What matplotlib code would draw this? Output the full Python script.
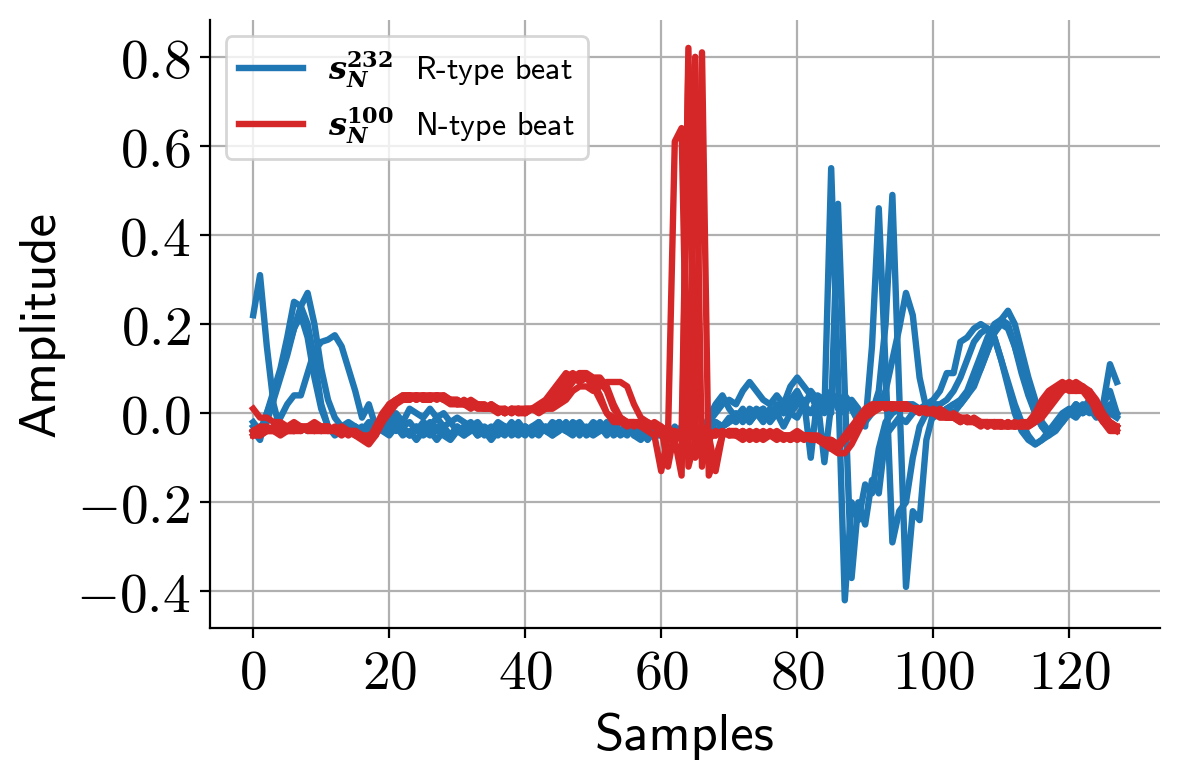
import numpy as np
import matplotlib
matplotlib.use("Agg")
import matplotlib.pyplot as plt
from matplotlib.ticker import FuncFormatter
from matplotlib.font_manager import FontProperties

plt.rcParams.update({
    "mathtext.fontset": "cm",
    "axes.unicode_minus": True,
})

BLUE = "tab:blue"
RED = "tab:red"

# R-type beats (s_N^232)
beat_r1 = [0.22, 0.31, 0.15, 0.02, -0.04, -0.03, -0.04, -0.03, -0.04, -0.03, -0.04, -0.03, -0.04, -0.03, -0.04, -0.03,
           -0.04, -0.03, -0.02, -0.04,
           -0.02, -0.04, -0.03, -0.05, -0.03, -0.04, -0.02, -0.04, -0.03, -0.05,
           -0.03, -0.04, -0.03, -0.05, -0.04, -0.05, -0.03, -0.04, -0.02, -0.04,
           -0.03, -0.05, -0.03, -0.04, -0.02, -0.03, -0.04, -0.02, -0.03, -0.04,
           -0.02, -0.03, -0.05, -0.03, -0.04, -0.03, -0.05, -0.04, -0.05, -0.04,
           -0.04, -0.05, -0.04, -0.05, -0.04, -0.03, -0.04, -0.02, 0.0, 0.02, 0.03, 0.02,
           0.05, 0.07, 0.05, 0.03, 0.02, 0.04, 0.02, 0.06, 0.08, 0.06, 0.04, 0.01,
           0.0, 0.55, 0.08, -0.42, -0.2, -0.24, -0.16, -0.18, -0.08, -0.02, 0.0, 0.01, 0.02, 0.02, 0.01, 0.02,
           0.03, 0.05, 0.09, 0.09, 0.16, 0.17, 0.19, 0.2, 0.19, 0.17, 0.12, 0.06, 0.0, -0.04, -0.06, -0.07,
           -0.06, -0.04, -0.03, -0.02, 0.0, -0.01, 0.01, 0.0, 0.01, 0.0, 0.02, 0.0]
beat_r2 = [-0.04, -0.06, 0.0, 0.05, 0.1, 0.17, 0.25, 0.24, 0.2, 0.12, 0.02, -0.03, -0.04, -0.03, -0.04, -0.03,
           -0.04, -0.03, -0.04, -0.03,
           -0.01, 0.0, -0.02, 0.01, 0.0, -0.01, 0.01, -0.01, 0.0, -0.02,
           -0.01, -0.02, -0.03, -0.02, -0.04, -0.03, -0.04, -0.03, -0.05, -0.04,
           -0.03, -0.04, -0.02, -0.04, -0.03, -0.02, -0.04, -0.03, -0.02, -0.04,
           -0.03, -0.04, -0.02, -0.03, -0.05, -0.04, -0.03, -0.05, -0.04, -0.05,
           -0.04, -0.06, -0.04, -0.05, -0.03, -0.05, -0.04, -0.03, -0.04, -0.03, -0.02, 0.0, -0.02,
           0.01, 0.0, -0.02, 0.01, 0.0, -0.03, 0.0, 0.02, 0.03, -0.1, 0.04, 0.03, 0.0,
           0.47, 0.05, -0.37, -0.2, -0.25, -0.15, -0.18, -0.05, -0.03, -0.01, -0.02, 0.0, 0.01, 0.0,
           0.02, 0.02, 0.03, 0.05, 0.08, 0.12, 0.16, 0.18, 0.19, 0.17, 0.12, 0.07, 0.02, -0.02, -0.05, -0.07,
           -0.06, -0.05, -0.03, -0.01, 0.0, 0.01, 0.0, 0.02, 0.0, 0.01, 0.0, -0.01]
beat_r3 = [-0.03, -0.05, -0.02, 0.03, 0.08, 0.13, 0.19, 0.24, 0.27, 0.2, 0.1, 0.03, -0.01, -0.03, -0.02, -0.03,
           -0.04, -0.02, -0.04, -0.03,
           -0.04, -0.02, -0.04, -0.05, -0.03, -0.05, -0.04, -0.06, -0.04, -0.05,
           -0.03, -0.05, -0.04, -0.03, -0.05, -0.04, -0.05, -0.03, -0.04, -0.05,
           -0.03, -0.04, -0.05, -0.03, -0.04, -0.02, -0.04, -0.03, -0.05, -0.03,
           -0.04, -0.02, -0.04, -0.03, -0.04, -0.05, -0.03, -0.04, -0.06, -0.04,
           -0.05, -0.04, -0.06, -0.04, -0.05, -0.03, -0.04, -0.01, 0.02, 0.04, 0.01, -0.01, 0.01,
           -0.02, 0.0, 0.01, -0.01, 0.01, 0.0, 0.03, 0.05, 0.02, 0.0, 0.03, 0.01, 0.04, 0.02, 0.0,
           0.03, 0.01, -0.03, 0.15, 0.46, 0.1, -0.29, -0.22, -0.2, -0.1, -0.03, 0.0,
           0.01, 0.0, 0.01, 0.02, 0.03, 0.05, 0.09, 0.13, 0.17, 0.2, 0.21, 0.2, 0.15, 0.1, 0.05, 0.0,
           -0.03, -0.05, -0.04, -0.02, 0.0, 0.02, 0.0, 0.01, -0.01, 0.02, 0.11, 0.07]
beat_r4 = [-0.02, -0.04, 0.0, 0.04, 0.09, 0.14, 0.19, 0.22, 0.17, 0.08, 0.01, -0.03, -0.05, -0.04, -0.03, -0.04,
           -0.03, -0.04, -0.03, -0.02,
           -0.03, -0.01, -0.03, -0.02, -0.04, -0.02, -0.03, -0.01, -0.03, -0.02,
           -0.04, -0.03, -0.02, -0.04, -0.03, -0.04, -0.02, -0.03, -0.04, -0.02,
           -0.04, -0.03, -0.02, -0.04, -0.05, -0.03, -0.04, -0.05, -0.03, -0.04,
           -0.05, -0.04, -0.03, -0.05, -0.04, -0.03, -0.05, -0.06, -0.04, -0.05,
           -0.05, -0.04, -0.05, -0.03, -0.04, -0.05, -0.03, -0.04, -0.02, -0.03, -0.01, -0.02, 0.0,
           -0.01, 0.01, 0.0, -0.02, 0.0, 0.02, 0.0, -0.01, 0.02, 0.04, 0.01, 0.03, 0.05, 0.01,
           0.04, 0.02, 0.0, -0.02, 0.0, 0.05,
           0.2, 0.49, 0.05, -0.39, -0.22, -0.24, -0.06, 0.0, 0.0, 0.01, 0.02, 0.02,
           0.04, 0.07, 0.1, 0.14, 0.18, 0.21, 0.23, 0.2, 0.14, 0.08, 0.03, -0.02, -0.04, -0.03, -0.01,
           0.0, 0.02, 0.01, 0.03, 0.0, 0.02, 0.05, 0.0]
beat_r5 = [-0.04, -0.03, -0.04, -0.03, -0.01, 0.02, 0.04, 0.04, 0.09, 0.14, 0.16, 0.165, 0.175, 0.15, 0.1, 0.05,
           -0.01, 0.02, -0.03, -0.04,
           -0.05, -0.03, -0.05, -0.04, -0.06, -0.04, -0.05, -0.03, -0.05, -0.06,
           -0.04, -0.05, -0.03, -0.05, -0.04, -0.06, -0.04, -0.05, -0.03, -0.04,
           -0.05, -0.03, -0.04, -0.03, -0.05, -0.04, -0.02, -0.04, -0.03, -0.05,
           -0.04, -0.03, -0.04, -0.02, -0.04, -0.03, -0.04, -0.05, -0.03, -0.05,
           -0.04, -0.05, -0.03, -0.05, -0.04, -0.03, -0.05, -0.04, -0.02, -0.03, -0.02, -0.01, 0.0,
           -0.02, 0.0, 0.01, -0.01, 0.02, 0.0, 0.01, 0.03, 0.01, 0.05, 0.03, -0.11, 0.02, 0.04,
           0.02, 0.01, -0.02, -0.01, 0.0, 0.02,
           0.05, 0.12, 0.19, 0.27, 0.22, 0.08, 0.01, -0.01, 0.0, 0.01, 0.0, 0.02,
           0.04, 0.06, 0.1, 0.14, 0.18, 0.2, 0.19, 0.15, 0.09, 0.04, 0.0, -0.03, -0.04, -0.02,
           0.0, 0.01, 0.0, 0.02, 0.01, 0.0, 0.01, 0.0]

# N-type beats (s_N^100)
beat_n1 = [0.01, -0.01, -0.01, -0.02, -0.02, -0.03, -0.02, -0.03, -0.03, -0.02, -0.03, -0.03, -0.04, -0.03, -0.04, -0.04, -0.05, -0.06, -0.04, -0.01,
           0.02, 0.03, 0.04, 0.04, 0.03, 0.04, 0.04, 0.03, 0.04, 0.03, 0.03, 0.02, 0.03, 0.02, 0.02, 0.01, 0.01, 0.0, 0.01, 0.01,
           0.0, 0.01, 0.01, 0.02, 0.04, 0.06, 0.08, 0.09, 0.08, 0.08, 0.07, 0.04, 0.0, -0.01, -0.02, -0.02, -0.03, -0.02, -0.03, -0.03,
           -0.05, -0.04, -0.06, -0.14, 0.82, -0.05, -0.1, -0.04, -0.05, -0.04,
           -0.05, -0.04, -0.05, -0.05, -0.04, -0.05, -0.05, -0.05, -0.06, -0.05, -0.05, -0.06, -0.05, -0.06, -0.06, -0.07, -0.08, -0.06, -0.04, -0.02,
           0.0, 0.01, 0.02, 0.02, 0.01, 0.02, 0.02, 0.01, 0.01, 0.01, 0.0, 0.0, -0.01, -0.01, -0.01, -0.02, -0.02, -0.02, -0.02, -0.03,
           -0.02, -0.03, -0.03, -0.02, -0.02, 0.0, 0.03, 0.05, 0.06, 0.07, 0.06, 0.05, 0.06, 0.04, 0.0, -0.02, -0.03, -0.04]
beat_n2 = [-0.05, -0.04, -0.04, -0.03, -0.04, -0.04, -0.03, -0.04, -0.03, -0.04, -0.03, -0.03, -0.04, -0.03, -0.04, -0.05, -0.05, -0.06, -0.03, 0.0,
           0.02, 0.03, 0.03, 0.04, 0.03, 0.04, 0.03, 0.04, 0.04, 0.03, 0.02, 0.02, 0.02, 0.01, 0.01, 0.02, 0.01, 0.01, 0.0, 0.01,
           0.01, 0.01, 0.02, 0.03, 0.05, 0.07, 0.09, 0.08, 0.09, 0.08, 0.06, 0.03, 0.0, -0.02, -0.02, -0.03, -0.02, -0.03, -0.04, -0.05,
           -0.13, -0.05, 0.61, 0.64, -0.12, -0.06, -0.03, -0.06, -0.04, -0.05,
           -0.04, -0.05, -0.04, -0.06, -0.05, -0.04, -0.05, -0.06, -0.05, -0.05, -0.06, -0.05, -0.05, -0.06, -0.07, -0.08, -0.07, -0.05, -0.03, -0.01,
           0.01, 0.02, 0.02, 0.01, 0.02, 0.02, 0.02, 0.01, 0.01, 0.0, 0.01, 0.0, -0.01, 0.0, -0.01, -0.02, -0.01, -0.02, -0.03, -0.02,
           -0.03, -0.02, -0.03, -0.03, -0.02, -0.01, 0.01, 0.03, 0.05, 0.06, 0.07, 0.06, 0.05, 0.05, 0.02, -0.01, -0.03, -0.03]
beat_n3 = [-0.05, -0.05, -0.04, -0.04, -0.05, -0.04, -0.04, -0.03, -0.04, -0.04, -0.03, -0.04, -0.04, -0.05, -0.04, -0.05, -0.06, -0.07, -0.05, -0.02,
           0.01, 0.03, 0.04, 0.04, 0.04, 0.03, 0.04, 0.04, 0.03, 0.03, 0.03, 0.02, 0.02, 0.02, 0.01, 0.01, 0.0, 0.01, 0.0, 0.01,
           0.0, 0.01, 0.01, 0.01, 0.02, 0.03, 0.05, 0.07, 0.09, 0.09, 0.08, 0.08, 0.06, 0.02, -0.01, -0.02, -0.02, -0.03, -0.02, -0.03,
           -0.04, -0.03, -0.05, -0.06, -0.1, 0.8, -0.12, -0.05, -0.05, -0.04,
           -0.05, -0.05, -0.04, -0.05, -0.06, -0.05, -0.05, -0.04, -0.05, -0.06, -0.05, -0.05, -0.06, -0.06, -0.07, -0.08, -0.09, -0.09, -0.07, -0.04,
           -0.01, 0.01, 0.02, 0.02, 0.02, 0.01, 0.02, 0.01, 0.01, 0.01, 0.0, 0.01, 0.0, -0.01, -0.01, -0.01, -0.02, -0.02, -0.02, -0.03,
           -0.03, -0.02, -0.03, -0.02, -0.03, -0.02, 0.0, 0.02, 0.04, 0.05, 0.06, 0.05, 0.06, 0.05, 0.03, 0.0, -0.02, -0.03]
beat_n4 = [-0.04, -0.05, -0.04, -0.04, -0.03, -0.04, -0.04, -0.03, -0.03, -0.04, -0.04, -0.03, -0.04, -0.04, -0.05, -0.04, -0.05, -0.06, -0.05, -0.02,
           0.0, 0.02, 0.03, 0.03, 0.04, 0.04, 0.03, 0.04, 0.03, 0.03, 0.02, 0.03, 0.02, 0.02, 0.01, 0.02, 0.01, 0.0, 0.01, 0.0,
           0.01, 0.01, 0.0, 0.01, 0.01, 0.02, 0.03, 0.05, 0.06, 0.06, 0.05, 0.06, 0.07, 0.07, 0.07, 0.06, 0.02, -0.01, -0.02, -0.03,
           -0.03, -0.05, -0.04, -0.05, -0.04, -0.06, 0.81, -0.14, -0.1, -0.05,
           -0.04, -0.05, -0.06, -0.05, -0.05, -0.06, -0.05, -0.05, -0.05, -0.06, -0.05, -0.05, -0.05, -0.06, -0.06, -0.06, -0.07, -0.06, -0.04, -0.02,
           0.0, 0.01, 0.01, 0.02, 0.02, 0.01, 0.01, 0.01, 0.0, 0.01, 0.0, -0.01, -0.01, -0.01, -0.02, -0.01, -0.02, -0.02, -0.03, -0.02,
           -0.02, -0.03, -0.02, -0.03, -0.03, -0.02, -0.01, 0.01, 0.03, 0.05, 0.06, 0.07, 0.06, 0.04, 0.01, -0.02, -0.04, -0.04]
beat_n5 = [-0.04, -0.03, -0.03, -0.04, -0.03, -0.03, -0.04, -0.04, -0.03, -0.03, -0.04, -0.04, -0.03, -0.04, -0.04, -0.04, -0.05, -0.05, -0.04, -0.01,
           0.01, 0.03, 0.03, 0.03, 0.04, 0.03, 0.03, 0.04, 0.03, 0.02, 0.02, 0.02, 0.01, 0.02, 0.01, 0.01, 0.01, 0.0, 0.01, 0.0,
           0.0, 0.01, 0.01, 0.02, 0.03, 0.05, 0.07, 0.08, 0.07, 0.08, 0.07, 0.07, 0.05, 0.01, -0.01, -0.02, -0.02, -0.02, -0.03, -0.02,
           -0.03, -0.12, -0.04, -0.05, 0.78, -0.1, -0.08, -0.05, -0.13, -0.05,
           -0.04, -0.04, -0.05, -0.04, -0.05, -0.05, -0.04, -0.05, -0.05, -0.05, -0.04, -0.05, -0.05, -0.05, -0.06, -0.06, -0.07, -0.06, -0.05, -0.03,
           -0.01, 0.0, 0.01, 0.02, 0.01, 0.02, 0.01, 0.01, 0.01, 0.0, 0.0, 0.0, -0.01, -0.01, -0.02, -0.01, -0.02, -0.03, -0.02, -0.02,
           -0.03, -0.03, -0.02, -0.03, -0.02, -0.01, 0.02, 0.04, 0.05, 0.06, 0.05, 0.05, 0.05, 0.03, 0.01, -0.01, -0.02, -0.03]

r_beats = [beat_r1, beat_r2, beat_r3, beat_r4, beat_r5]
n_beats = [beat_n1, beat_n2, beat_n3, beat_n4, beat_n5]

r_label = r"$\mathbfit{s}_{\mathbfit{N}}^{\mathbf{232}}$  R-type beat"
n_label = r"$\mathbfit{s}_{\mathbfit{N}}^{\mathbf{100}}$  N-type beat"

fig, ax = plt.subplots(figsize=(5.9, 3.9), dpi=200)
fig.subplots_adjust(left=0.178, right=0.983, top=0.974, bottom=0.195)

for i, b in enumerate(r_beats):
    ax.plot(np.arange(len(b)), b, color=BLUE, linewidth=2.3, label=r_label if i == 0 else None)
for i, b in enumerate(n_beats):
    ax.plot(np.arange(len(b)), b, color=RED, linewidth=2.3, label=n_label if i == 0 else None)

ax.set_xticks([0, 20, 40, 60, 80, 100, 120])
ax.set_yticks([-0.4, -0.2, 0.0, 0.2, 0.4, 0.6, 0.8])
ax.xaxis.set_major_formatter(FuncFormatter(lambda v, p: f"${v:.0f}$"))
ax.yaxis.set_major_formatter(FuncFormatter(lambda v, p: f"${v:.1f}$"))
ax.tick_params(labelsize=20)

ax.set_xlabel("Samples", fontsize=19, family="cmss10")
ax.set_ylabel("Amplitude", fontsize=19, family="cmss10")

ax.grid(True)
ax.spines["top"].set_visible(False)
ax.spines["right"].set_visible(False)

leg_font = FontProperties(family="cmss10", size=11.5, math_fontfamily="dejavuserif")
ax.legend(loc="upper left", prop=leg_font)

fig.savefig("out.png", dpi=200)
